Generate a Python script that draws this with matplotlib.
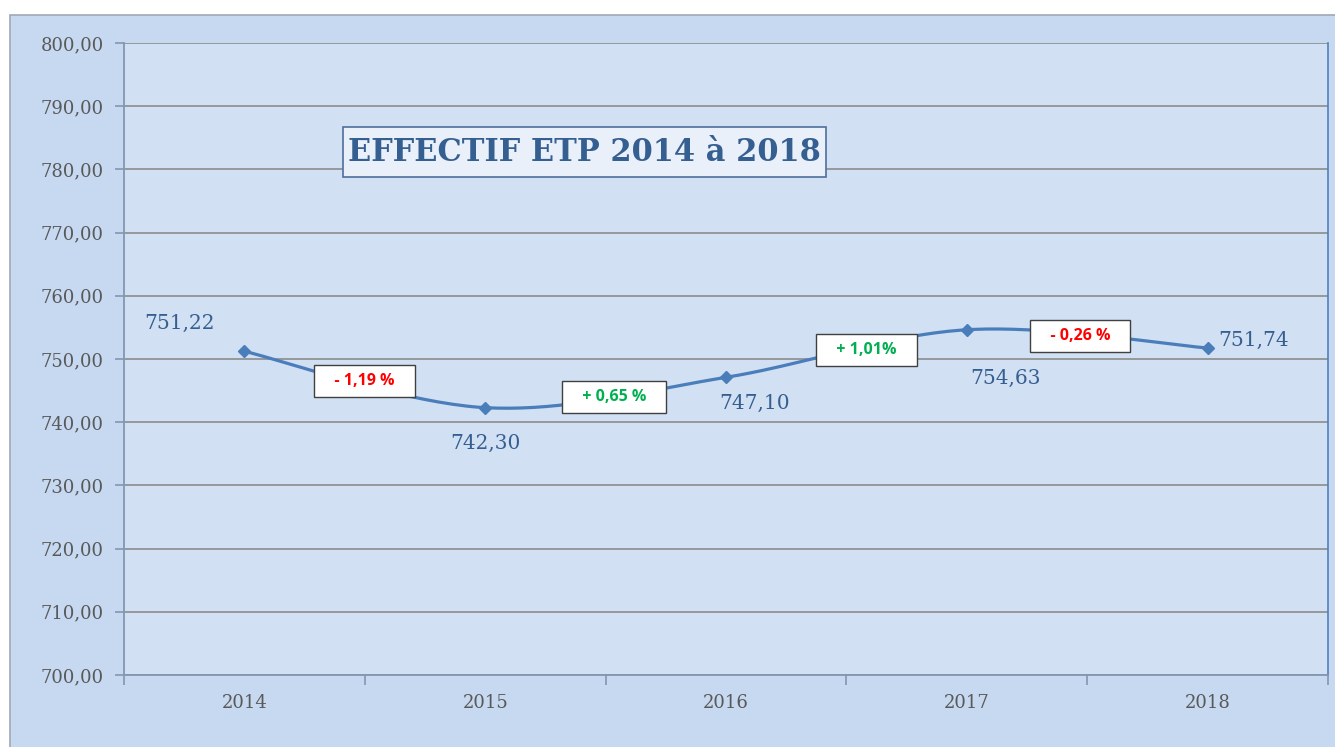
import matplotlib
matplotlib.use('Agg')
import matplotlib.pyplot as plt
import numpy as np
from matplotlib.patches import Rectangle

# données
annees = ['2014', '2015', '2016', '2017', '2018']
effectif = [751.22, 742.30, 747.10, 754.63, 751.74]
variations = ['- 1,19 %', '+ 0,65 %', '+ 1,01%', '- 0,26 %']
variation_couleurs = ['#ff0000', '#00b050', '#00b050', '#ff0000']

# placement des étiquettes (mise en page)
lbl_pos = [(-0.27, 755.7), (1.0, 736.6), (2.12, 742.9), (3.16, 746.9), (4.19, 753.0)]
var_pos = [(0.5, 746.5), (1.535, 744.0), (2.585, 751.5), (3.47, 753.6)]

W, H = 1335, 747
fig = plt.figure(figsize=(W / 100, H / 100), dpi=100, facecolor='white')

# fond de la zone de graphique
fond = Rectangle((10 / W, -0.01), 1.0, 1 - 15 / H + 0.01, transform=fig.transFigure,
                 facecolor='#c6d9f1', edgecolor='#a0a8b4', linewidth=1.2, zorder=-10)
fig.add_artist(fond)

left, right, top, bottom = 124, 1328, 43, 675
ax = fig.add_axes([left / W, 1 - bottom / H, (right - left) / W, (bottom - top) / H])
ax.set_zorder(5)
ax.set_facecolor('#d1e0f2')


def lissage(x, y, n=40):
    """Courbe lissée type Excel (Catmull-Rom / Bézier)"""
    pts = np.column_stack([x, y]).astype(float)
    out = []
    for i in range(len(pts) - 1):
        p0 = pts[i - 1] if i > 0 else pts[i]
        p1, p2 = pts[i], pts[i + 1]
        p3 = pts[i + 2] if i + 2 < len(pts) else pts[i + 1]
        c1 = p1 + (p2 - p0) / 6
        c2 = p2 - (p3 - p1) / 6
        t = np.linspace(0, 1, n)[:, None]
        seg = ((1 - t) ** 3) * p1 + 3 * ((1 - t) ** 2) * t * c1 + 3 * (1 - t) * t ** 2 * c2 + t ** 3 * p2
        out.append(seg if i == 0 else seg[1:])
    s = np.vstack(out)
    return s[:, 0], s[:, 1]


x = np.arange(len(annees))
xs, ys = lissage(x, effectif)
ax.plot(xs, ys, color='#4a7ebb', linewidth=2.3, zorder=3, solid_capstyle='round')
ax.plot(x, effectif, linestyle='none', marker='D', markersize=6, color='#4a7ebb', zorder=4)

ax.set_xlim(-0.5, len(annees) - 0.5)
ax.set_ylim(700, 800)
ax.set_yticks(np.arange(700, 801, 10))
ax.set_yticklabels([f"{v:.2f}".replace('.', ',') for v in np.arange(700, 801, 10)])
ax.set_xticks(x)
ax.set_xticklabels(annees)
ax.set_xticks(np.arange(-0.5, len(annees)), minor=True)

serif = 'DejaVu Serif'
for lab in ax.get_yticklabels() + ax.get_xticklabels():
    lab.set_fontfamily(serif)
    lab.set_fontsize(13)
    lab.set_color('#595959')

ax.tick_params(axis='x', which='major', length=0, pad=14)
ax.tick_params(axis='x', which='minor', length=7, color='#8496b0', width=1.2)
ax.tick_params(axis='y', length=6.5, color='#8496b0', width=1.2, pad=8)

ax.grid(axis='y', color='#8c8c8c', linewidth=1.2)
ax.set_axisbelow(True)
ax.spines['top'].set_visible(False)
ax.spines['left'].set_color('#8496b0')
ax.spines['bottom'].set_color('#8496b0')
ax.spines['left'].set_linewidth(1.3)
ax.spines['bottom'].set_linewidth(1.3)
ax.spines['right'].set_color('#4f81bd')
ax.spines['right'].set_linewidth(1.2)

# valeurs
for (px, py), v in zip(lbl_pos, effectif):
    ax.text(px, py, f"{v:.2f}".replace('.', ','), ha='center', va='center',
            fontsize=14.5, family=serif, color='#365f91', zorder=5)

# variations annuelles
for (px, py), txt, c in zip(var_pos, variations, variation_couleurs):
    ax.text(px, py, '   ' + txt + '   ', ha='center', va='center', fontsize=11.5, fontweight='bold',
            family='Open Sans', color=c, zorder=6,
            bbox=dict(boxstyle='square,pad=0.5', facecolor='white', edgecolor='#404040', linewidth=1.0))

# titre
ax.add_patch(Rectangle((0.1819, 0.788), 0.4012, 0.0791, transform=ax.transAxes,
                       facecolor='#e9f0f9', edgecolor='#4f6f9c', linewidth=1.2, zorder=6))
ax.text(0.3825, 0.8275, 'EFFECTIF ETP 2014 à 2018', transform=ax.transAxes, ha='center', va='center',
        fontsize=22, fontweight='bold', family=serif, color='#365f91', zorder=7)

fig.savefig('out.png', dpi=100)
